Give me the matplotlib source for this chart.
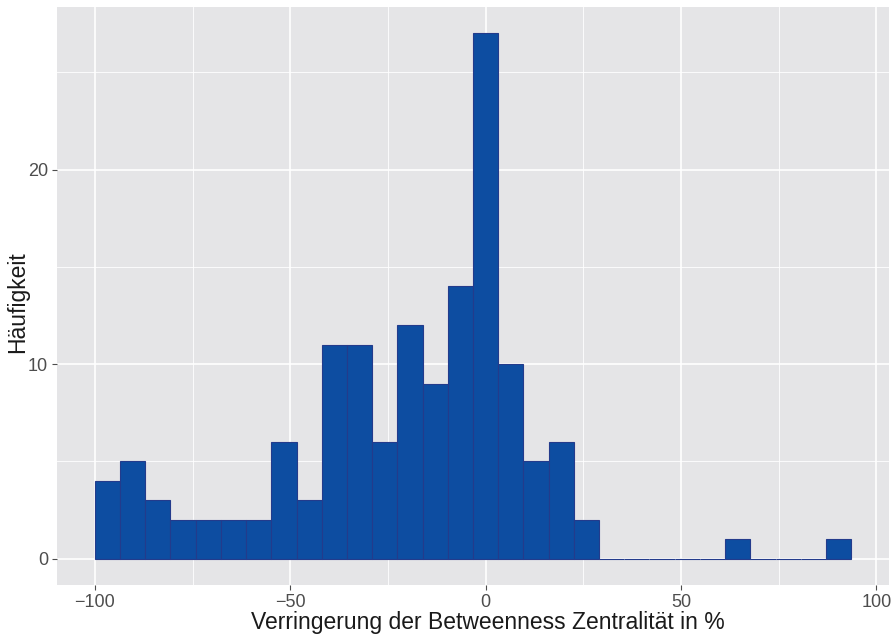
import numpy as np
import matplotlib.pyplot as plt

plt.rcParams["font.family"] = ["Liberation Sans", "DejaVu Sans"]

# histogram: 30 bins, width 100/15.5, first edge at -100
bin_start = -100.0
bin_width = 100.0 / 15.5
counts = [4, 5, 3, 2, 2, 2, 2, 6, 3, 11, 11, 6, 12, 9, 14, 27, 10, 5, 6, 2,
          0, 0, 0, 0, 0, 1, 0, 0, 0, 1]
edges = bin_start + bin_width * np.arange(len(counts) + 1)

x_ticks = [-100, -50, 0, 50, 100]
x_tick_labels = ["\u2212100", "\u221250", "0", "50", "100"]
y_ticks = [0, 10, 20]

fig = plt.figure(figsize=(8.94, 6.38), dpi=100)
ax = fig.add_axes([57 / 894, 53 / 638, 832 / 894, 578 / 638])
ax.set_facecolor("#E5E5E7")

ax.bar(edges[:-1], counts, width=bin_width, align="edge",
       color="#0D4DA1", edgecolor="#233B8C", linewidth=0.8, zorder=3)

xr = edges[-1] - edges[0]
ax.set_xlim(edges[0] - 0.05 * xr, edges[-1] + 0.05 * xr)
ax.set_ylim(-0.05 * max(counts), 1.05 * max(counts))

ax.set_xticks(x_ticks)
ax.set_xticklabels(x_tick_labels)
ax.set_yticks(y_ticks)
ax.set_xticks([-75, -25, 25, 75], minor=True)
ax.set_yticks([5, 15, 25], minor=True)

ax.grid(which="major", color="white", linewidth=1.2, zorder=0)
ax.grid(which="minor", color="white", linewidth=0.6, zorder=0)
ax.set_axisbelow(True)
for s in ax.spines.values():
    s.set_visible(False)

ax.tick_params(which="major", length=3.5, width=0.8, color="#4D4D4D",
               labelcolor="#4D4D4D", labelsize=13, pad=3)
ax.tick_params(which="minor", length=0)

ax.set_xlabel("Verringerung der Betweenness Zentralität in %", fontsize=16.5,
              color="#1A1A1A", va="center")
ax.set_ylabel("Häufigkeit", fontsize=16.5, color="#1A1A1A", va="center")
ax.xaxis.set_label_coords(0.518, -0.0657)
ax.yaxis.set_label_coords(-0.0469, 0.49)

fig.savefig("out.png", dpi=100)
